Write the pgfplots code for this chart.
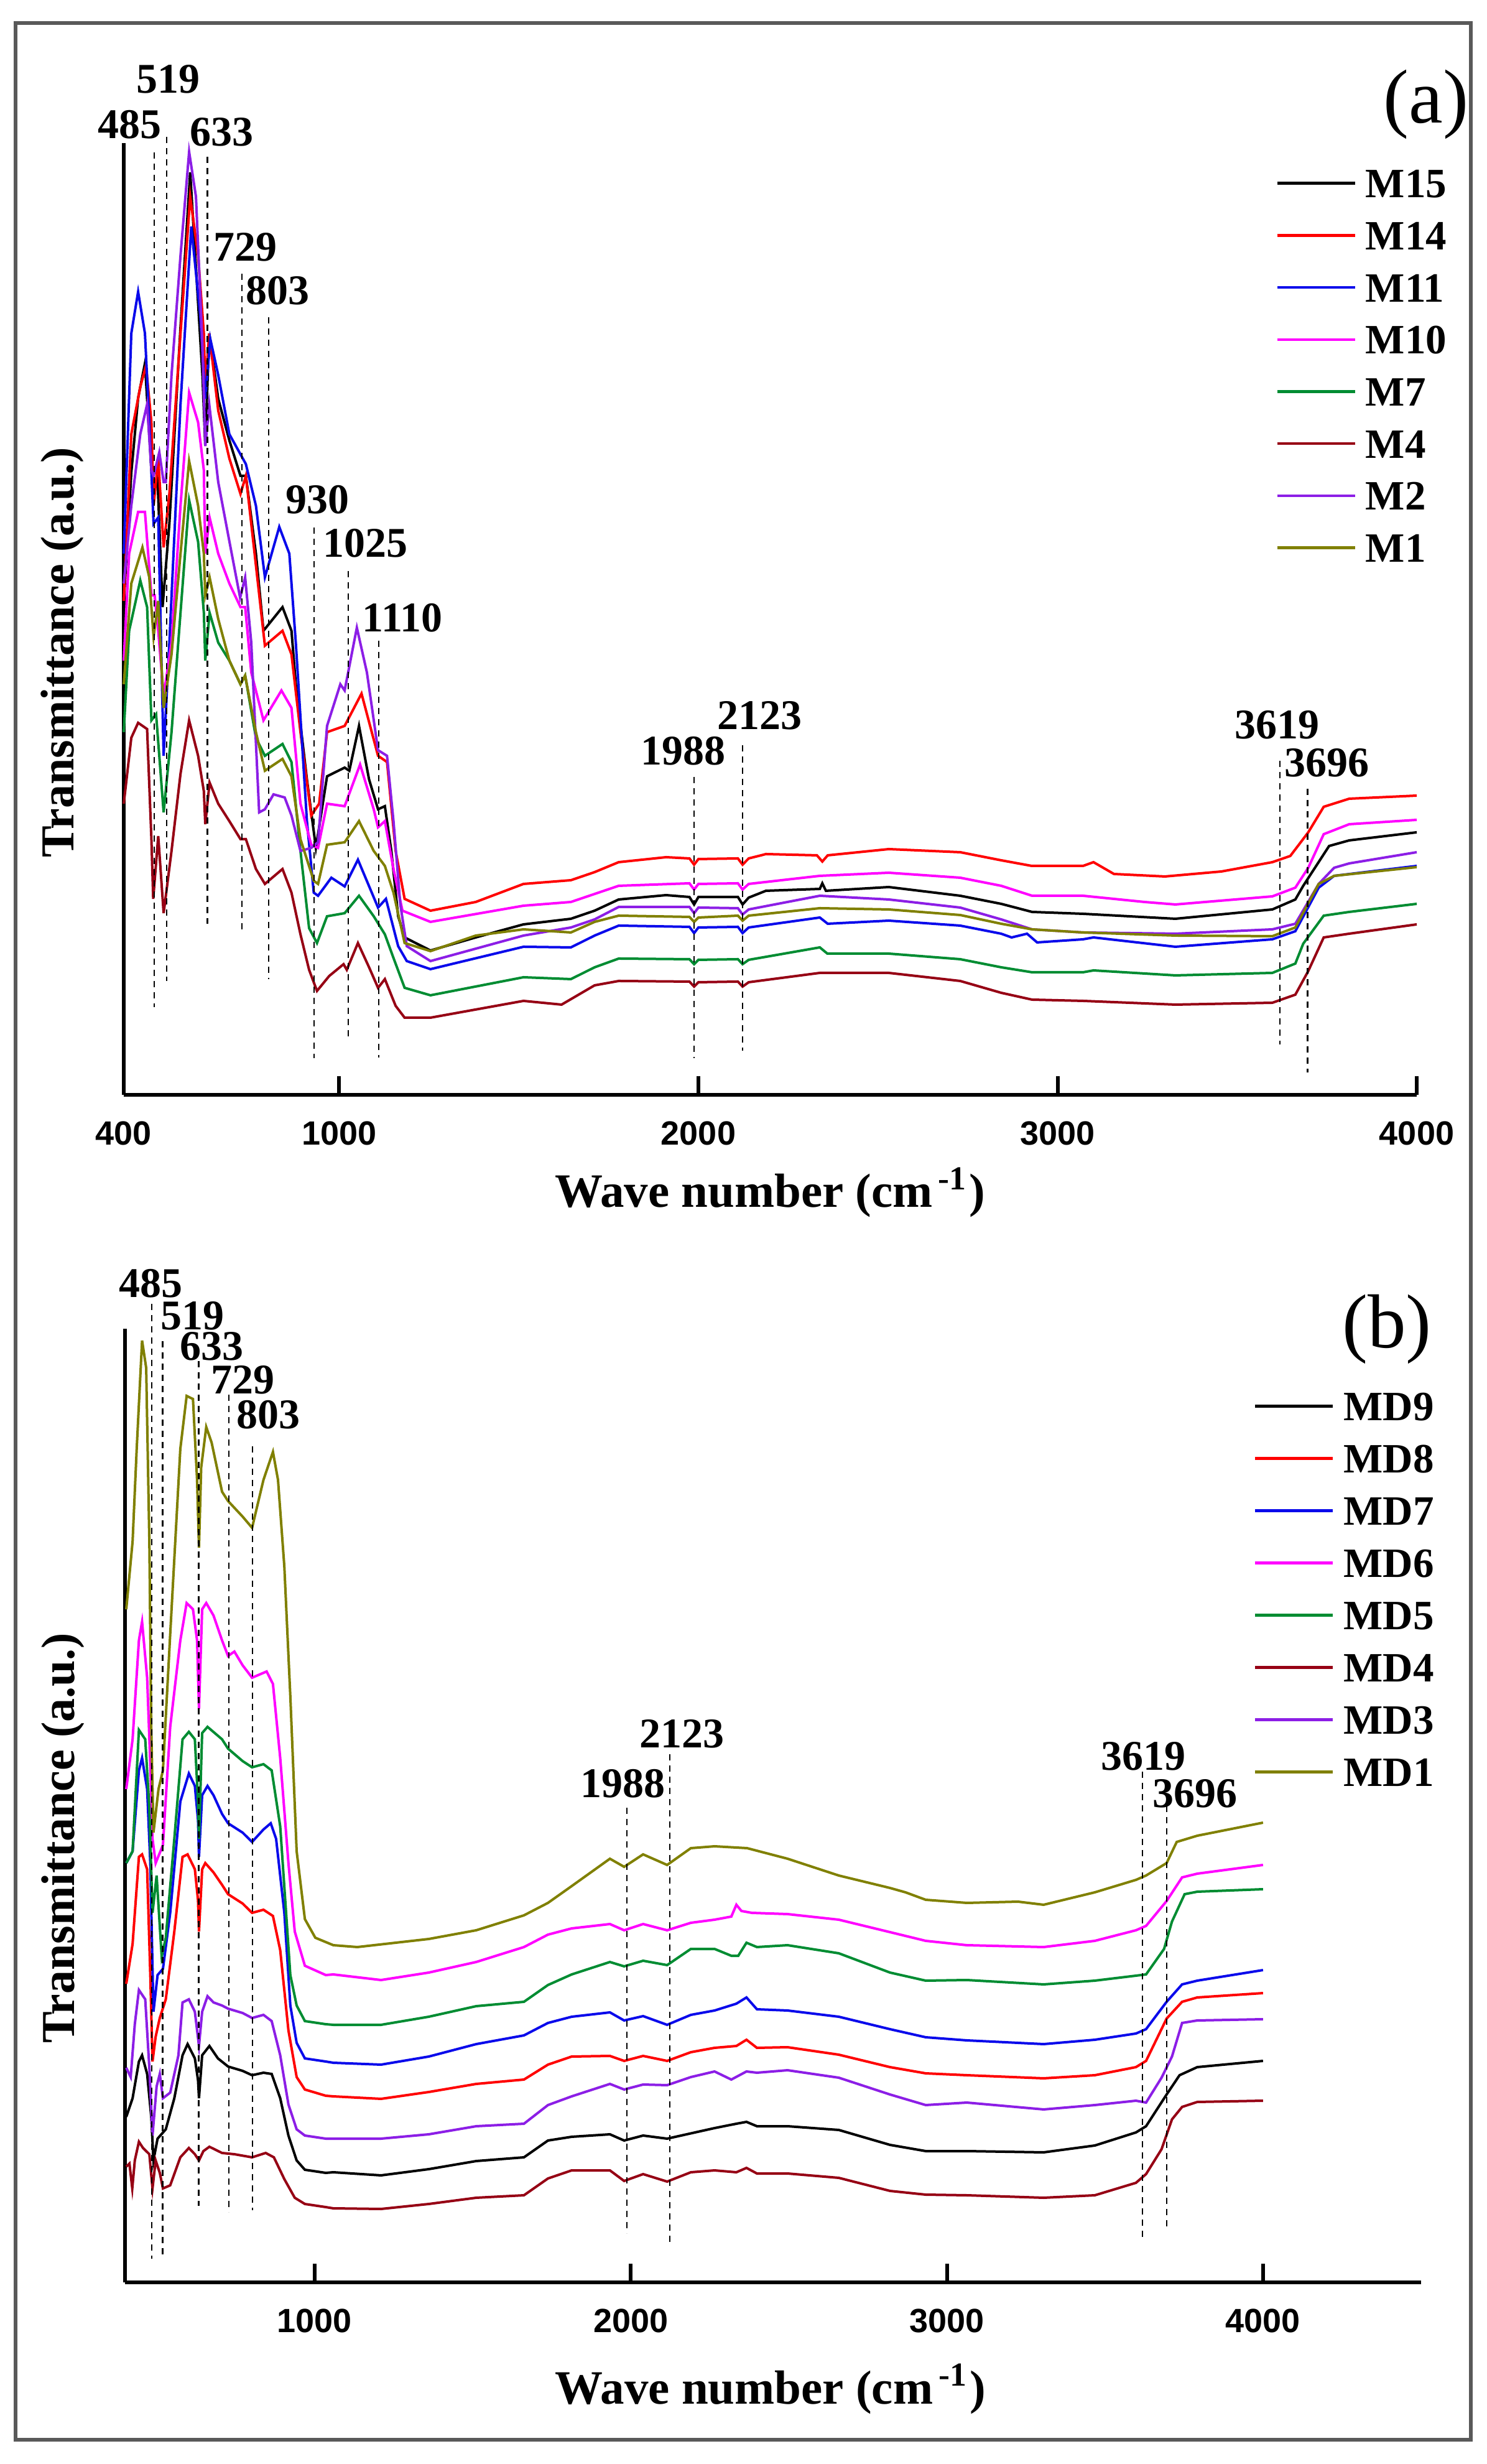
\documentclass[border=0pt]{standalone}
\usepackage{pgfplots}
\pgfplotsset{compat=1.18}
\usepackage{fontspec}
\setmainfont{Liberation Serif}
\newfontfamily\ticksans{Liberation Sans}
\definecolor{cRed}{RGB}{255,0,0}
\definecolor{cBlue}{RGB}{10,10,235}
\definecolor{cMag}{RGB}{255,0,255}
\definecolor{cGreen}{RGB}{0,140,50}
\definecolor{cDark}{RGB}{150,0,20}
\definecolor{cPurp}{RGB}{140,30,230}
\definecolor{cOlive}{RGB}{128,128,0}
\pgfplotsset{
  ftir/.style={
    scale only axis, axis lines=left, axis line style={-, line width=0.6pt},
    ymin=0, ytick=\empty, tick align=inside, major tick length=3pt,
    every tick/.style={line width=0.6pt, black},
    xticklabel style={font=\ticksans\bfseries\fontsize{5.4}{6}\selectfont, anchor=base, inner sep=0pt},
    /pgf/number format/assume math mode=true,
    /pgf/number format/set thousands separator={},
    clip=false,
    ylabel={Transmittance (a.u.)},
    xlabel={Wave number (cm\textsuperscript{\,-1})},
    ylabel style={font=\bfseries\fontsize{7.6}{9}\selectfont, anchor=base, inner sep=0pt},
    legend cell align=left,
    legend image code/.code={\draw[#1, line width=0.45pt] (0pt,0pt) -- (12.5pt,0pt);},
    every axis plot/.append style={line width=0.4pt},
  },
  dsh/.style={black, line width=0.22pt, dash pattern=on 1pt off 0.8pt, forget plot},
}
\tikzset{ann/.style={font=\bfseries\fontsize{6.8}{8}\selectfont, anchor=base, inner sep=0pt}}
\begin{document}
\begin{tikzpicture}
\useasboundingbox (0pt,0pt) rectangle (239pt,396.1pt);
\draw[line width=0.55pt, color=black!65] (2.5pt,3.9pt) rectangle (236.5pt,392.4pt);

% ---------------- panel (a) ----------------
\begin{axis}[ftir, at={(19.9pt,220.1pt)}, anchor=south west,
  width=207.9pt, height=153pt, xmin=400, xmax=4000, ymax=1530,
  xtick={400,1000,2000,3000,4000},
  xticklabel style={yshift=-8.1pt},
  xlabel style={at={(axis description cs:0.5,-0.1183)}, anchor=base, inner sep=0pt, font=\bfseries\fontsize{7.7}{9}\selectfont},
  ylabel style={at={(axis description cs:-0.0385,0.465)}},
  legend style={at={(axis description cs:0.890,0.974)}, anchor=north west, draw=none, fill=none,
    font=\bfseries\fontsize{6.7}{7}\selectfont, inner sep=0pt, row sep=3.77pt, column sep=1.5pt,
    nodes={inner sep=0pt, text height=4.6pt, text depth=0pt}},
]
\addplot[black] coordinates {(400,790) (421,1000) (440,1120) (459,1176) (477,1004) (493,1004) (508,784) (527,918) (558,1234) (585,1483) (619,1157) (627,1043) (638,1224) (663,1119) (694,1052) (725,995) (740,995) (768,870) (789,746) (842,784) (867,746) (879,660) (910,507) (935,397) (966,512) (1015,526) (1028,521) (1055,593) (1083,507) (1108,459) (1127,464) (1145,392) (1164,287) (1182,253) (1254,232) (1380,253) (1513,274) (1645,283) (1711,296) (1778,314) (1910,321) (1975,318) (1988,306) (2000,318) (2110,318) (2123,306) (2140,317) (2188,328) (2338,331) (2345,340) (2355,328) (2530,334) (2729,320) (2843,307) (2929,294) (3071,291) (3328,283) (3598,298) (3662,314) (3684,336) (3756,400) (3812,409) (4000,422)};
\addlegendentry{M15}
\addplot[cRed] coordinates {(400,794) (421,1062) (446,1138) (462,1172) (477,1081) (483,947) (496,1023) (511,880) (527,966) (558,1224) (585,1444) (607,1349) (623,1224) (627,1138) (638,1224) (663,1100) (694,1023) (725,966) (740,995) (768,851) (793,722) (842,746) (867,708) (892,583) (922,449) (944,468) (966,583) (1015,593) (1062,645) (1108,545) (1133,535) (1157,392) (1182,315) (1254,296) (1380,310) (1513,339) (1645,345) (1711,358) (1778,374) (1910,382) (1975,380) (1988,370) (2000,379) (2110,380) (2123,370) (2140,380) (2188,387) (2330,385) (2345,375) (2360,385) (2530,395) (2729,390) (2843,377) (2928,368) (3071,368) (3100,374) (3157,355) (3299,351) (3456,359) (3598,374) (3648,384) (3698,422) (3741,463) (3812,476) (4000,481)};
\addlegendentry{M14}
\addplot[cBlue] coordinates {(400,870) (421,1224) (440,1291) (459,1224) (471,1081) (483,918) (496,928) (511,545) (527,727) (558,1110) (588,1396) (613,1253) (627,1119) (641,1215) (663,1157) (694,1062) (740,1014) (768,947) (793,832) (833,913) (861,870) (879,727) (910,440) (929,325) (941,320) (978,349) (1015,335) (1052,378) (1108,301) (1130,315) (1164,239) (1188,215) (1254,202) (1513,238) (1645,237) (1711,256) (1778,272) (1975,270) (1988,260) (2000,269) (2110,270) (2123,260) (2140,269) (2338,285) (2360,275) (2530,280) (2729,272) (2843,259) (2872,253) (2915,259) (2943,245) (3071,250) (3100,253) (3328,238) (3598,250) (3662,263) (3727,333) (3770,352) (4000,368)};
\addlegendentry{M11}
\addplot[cMag] coordinates {(400,698) (415,870) (440,937) (459,937) (477,803) (486,803) (496,746) (511,641) (533,727) (558,947) (582,1129) (607,1081) (623,1004) (627,870) (639,928) (663,870) (694,822) (725,784) (738,784) (755,679) (789,602) (839,650) (867,622) (892,468) (922,402) (941,397) (966,468) (1015,464) (1058,531) (1096,459) (1108,430) (1127,440) (1151,363) (1176,296) (1254,278) (1513,304) (1645,310) (1778,336) (1975,340) (1988,330) (2000,339) (2110,340) (2123,330) (2140,339) (2338,352) (2530,357) (2729,349) (2843,336) (2929,320) (3071,320) (3242,310) (3328,306) (3598,319) (3662,333) (3698,365) (3741,419) (3812,435) (4000,442)};
\addlegendentry{M10}
\addplot[cGreen] coordinates {(400,583) (415,746) (446,827) (465,784) (477,602) (490,612) (511,454) (533,583) (558,775) (582,956) (607,889) (623,775) (627,698) (639,775) (663,727) (694,698) (725,660) (738,674) (768,574) (793,545) (842,564) (867,535) (892,392) (916,268) (938,244) (966,287) (1015,292) (1055,320) (1096,287) (1127,258) (1151,220) (1182,172) (1254,160) (1513,189) (1645,186) (1711,205) (1778,219) (1975,218) (1988,210) (2000,217) (2110,218) (2123,210) (2140,217) (2338,237) (2359,227) (2530,227) (2729,218) (2843,205) (2929,197) (3071,197) (3100,200) (3328,192) (3598,196) (3662,211) (3684,243) (3741,288) (3812,294) (4000,307)};
\addlegendentry{M7}
\addplot[cDark] coordinates {(400,468) (421,574) (440,598) (465,588) (477,411) (482,315) (496,416) (511,292) (533,392) (558,516) (582,602) (607,545) (623,488) (627,435) (639,502) (663,468) (694,440) (725,411) (740,411) (768,363) (793,339) (842,363) (867,325) (892,258) (916,201) (938,167) (972,191) (1012,210) (1021,201) (1052,244) (1083,205) (1108,172) (1127,186) (1157,143) (1182,124) (1254,124) (1513,151) (1619,145) (1711,176) (1778,183) (1975,182) (1988,174) (2000,181) (2110,182) (2123,174) (2140,181) (2338,196) (2530,196) (2729,183) (2843,164) (2929,153) (3071,151) (3328,145) (3598,148) (3662,161) (3698,199) (3741,253) (3812,259) (4000,274)};
\addlegendentry{M4}
\addplot[cPurp] coordinates {(400,822) (421,947) (446,1062) (465,1110) (477,1004) (483,995) (499,1033) (511,985) (517,985) (533,1157) (558,1349) (582,1516) (601,1444) (619,1205) (627,1043) (638,1110) (663,985) (694,890) (724,799) (738,832) (755,727) (777,454) (793,459) (817,483) (848,478) (867,449) (892,392) (922,397) (941,406) (966,593) (1003,660) (1015,650) (1049,751) (1077,679) (1108,554) (1133,545) (1151,440) (1170,306) (1188,239) (1254,215) (1513,256) (1645,269) (1711,282) (1778,302) (1975,302) (1988,292) (2000,301) (2110,300) (2123,290) (2140,298) (2338,320) (2530,314) (2729,301) (2843,282) (2929,266) (3071,261) (3328,259) (3598,266) (3662,275) (3727,339) (3770,365) (3812,372) (4000,390)};
\addlegendentry{M2}
\addplot[cOlive] coordinates {(400,660) (421,822) (452,880) (471,832) (483,736) (496,794) (511,622) (533,708) (558,870) (582,1019) (607,947) (623,870) (627,803) (639,832) (663,765) (694,698) (725,660) (738,674) (768,583) (793,521) (842,540) (867,512) (892,411) (929,344) (941,339) (966,402) (1015,406) (1055,440) (1096,392) (1127,368) (1151,325) (1182,244) (1254,231) (1380,256) (1513,266) (1645,261) (1711,278) (1778,288) (1975,286) (1988,278) (2000,285) (2110,288) (2123,280) (2140,288) (2338,300) (2530,298) (2729,289) (2843,275) (2929,266) (3071,261) (3328,256) (3598,255) (3662,269) (3727,339) (3770,352) (4000,366)};
\addlegendentry{M1}
% guide lines
\addplot[dsh] coordinates {(485,1515) (485,141)};
\addplot[dsh] coordinates {(519,1540) (519,183)};
\addplot[dsh] coordinates {(633,1508) (633,275)};
\addplot[dsh] coordinates {(729,1320) (729,260)};
\addplot[dsh] coordinates {(803,1250) (803,186)};
\addplot[dsh] coordinates {(930,912) (930,59)};
\addplot[dsh] coordinates {(1025,842) (1025,94)};
\addplot[dsh] coordinates {(1110,730) (1110,60)};
\addplot[dsh] coordinates {(1988,511) (1988,59)};
\addplot[dsh] coordinates {(2123,562) (2123,71)};
\addplot[dsh] coordinates {(3619,537) (3619,81)};
\addplot[dsh] coordinates {(3696,492) (3696,36)};
\node[ann] at (axis cs:416,1537) {485};
\node[ann] at (axis cs:523,1610) {519};
\node[ann] at (axis cs:672,1525) {633};
\node[ann] at (axis cs:738,1340) {729};
\node[ann] at (axis cs:829,1270) {803};
\node[ann] at (axis cs:940,934) {930};
\node[ann] at (axis cs:1072,864) {1025};
\node[ann] at (axis cs:1176,744) {1110};
\node[ann] at (axis cs:1958,530) {1988};
\node[ann] at (axis cs:2170,587) {2123};
\node[ann] at (axis cs:3612,572) {3619};
\node[ann] at (axis cs:3749,511) {3696};
\node[font=\fontsize{12.3}{14}\selectfont, anchor=base, inner sep=0pt] at (axis cs:4026,1562) {(a)};
\end{axis}

% ---------------- panel (b) ----------------
\begin{axis}[ftir, at={(20.1pt,29.2pt)}, anchor=south west,
  width=208.4pt, height=153.3pt, xmin=400, xmax=4500, ymax=1533,
  xtick={1000,2000,3000,4000},
  xticklabel style={yshift=-8pt},
  xlabel style={at={(axis description cs:0.498,-0.1272)}, anchor=base, inner sep=0pt, font=\bfseries\fontsize{7.7}{9}\selectfont},
  ylabel style={at={(axis description cs:-0.0393,0.466)}},
  legend style={at={(axis description cs:0.870,0.935)}, anchor=north west, draw=none, fill=none,
    font=\bfseries\fontsize{6.7}{7}\selectfont, inner sep=0pt, row sep=3.8pt, column sep=1.5pt,
    nodes={inner sep=0pt, text height=4.6pt, text depth=0pt}},
]
\addplot[black] coordinates {(404,266) (424,296) (444,355) (454,365) (470,335) (483,266) (490,196) (503,231) (529,246) (556,296) (582,365) (598,383) (621,360) (631,325) (634,296) (644,365) (667,380) (694,360) (726,347) (772,340) (802,333) (838,337) (864,335) (891,296) (917,236) (943,196) (969,181) (1035,176) (1059,177) (1210,172) (1361,182) (1511,195) (1662,201) (1738,228) (1813,234) (1934,238) (1979,228) (2039,236) (2115,231) (2265,248) (2334,255) (2366,258) (2399,251) (2496,251) (2658,245) (2820,221) (2933,211) (3063,211) (3306,209) (3468,220) (3598,241) (3630,251) (3695,302) (3736,333) (3792,346) (4000,356)};
\addlegendentry{MD9}
\addplot[cRed] coordinates {(404,480) (424,544) (444,684) (454,688) (470,664) (480,494) (487,355) (497,395) (510,425) (529,455) (556,564) (582,684) (598,688) (621,664) (631,614) (634,564) (644,664) (654,674) (680,659) (707,639) (726,624) (772,609) (802,594) (838,599) (868,589) (891,534) (917,405) (943,330) (969,310) (1035,300) (1059,299) (1210,295) (1361,306) (1511,319) (1662,326) (1738,350) (1813,363) (1934,364) (1979,356) (2039,364) (2115,356) (2190,370) (2265,377) (2334,380) (2366,390) (2399,377) (2496,378) (2658,366) (2820,346) (2933,336) (3063,333) (3306,328) (3468,333) (3598,346) (3630,356) (3695,424) (3744,451) (3792,458) (4000,465)};
\addlegendentry{MD8}
\addplot[cBlue] coordinates {(404,674) (424,693) (444,823) (454,843) (470,793) (480,674) (490,435) (503,494) (520,504) (543,594) (575,773) (602,818) (621,798) (631,743) (634,684) (644,783) (661,798) (680,783) (707,753) (726,738) (772,723) (802,708) (838,728) (861,738) (878,713) (904,594) (923,445) (943,385) (969,360) (1035,355) (1059,353) (1210,350) (1361,363) (1511,383) (1662,397) (1738,417) (1813,427) (1934,434) (1979,421) (2039,428) (2115,414) (2190,430) (2265,437) (2334,448) (2366,458) (2399,439) (2496,437) (2658,427) (2820,407) (2933,394) (3063,389) (3306,383) (3468,390) (3598,400) (3630,407) (3695,451) (3744,479) (3792,485) (4000,502)};
\addlegendentry{MD7}
\addplot[cMag] coordinates {(404,793) (424,873) (444,1032) (454,1062) (470,972) (480,833) (487,713) (497,674) (520,703) (543,893) (575,1032) (595,1092) (615,1082) (628,1032) (634,922) (644,1082) (657,1092) (680,1072) (707,1032) (726,1007) (746,1014) (772,992) (802,972) (848,982) (868,962) (891,843) (917,674) (937,564) (969,509) (1035,494) (1059,495) (1210,486) (1361,498) (1511,515) (1662,539) (1738,559) (1813,569) (1934,576) (1979,566) (2039,576) (2115,566) (2190,578) (2265,583) (2318,588) (2334,607) (2350,597) (2383,594) (2496,592) (2658,583) (2820,563) (2933,549) (3063,542) (3306,539) (3468,549) (3598,566) (3630,573) (3695,613) (3744,651) (3792,657) (4000,671)};
\addlegendentry{MD6}
\addplot[cGreen] coordinates {(404,674) (424,693) (444,888) (464,873) (477,763) (487,594) (500,654) (516,524) (529,554) (556,713) (582,873) (602,885) (621,873) (631,773) (634,713) (644,883) (661,893) (707,873) (726,858) (772,838) (802,828) (838,833) (864,823) (891,733) (923,494) (943,445) (969,420) (1035,415) (1059,414) (1210,414) (1361,427) (1511,444) (1662,451) (1738,478) (1813,495) (1934,515) (1979,508) (2039,517) (2115,510) (2190,536) (2265,536) (2318,525) (2340,525) (2366,546) (2399,539) (2496,542) (2658,529) (2820,498) (2933,485) (3063,486) (3306,479) (3468,485) (3598,493) (3630,495) (3687,536) (3712,580) (3752,624) (3792,628) (4000,632)};
\addlegendentry{MD5}
\addplot[cDark] coordinates {(404,186) (414,191) (423,151) (431,196) (444,226) (457,216) (477,206) (487,151) (497,196) (510,176) (520,151) (543,156) (575,201) (602,216) (621,206) (634,196) (648,211) (667,218) (707,208) (746,206) (802,201) (845,208) (871,201) (904,166) (937,136) (969,126) (1035,121) (1059,119) (1210,118) (1361,126) (1511,136) (1662,140) (1738,167) (1813,180) (1934,180) (1979,163) (2039,174) (2115,162) (2190,177) (2265,180) (2334,177) (2366,184) (2399,175) (2496,175) (2658,168) (2820,147) (2933,141) (3063,140) (3306,136) (3468,140) (3598,160) (3630,174) (3679,214) (3712,262) (3744,282) (3792,290) (4000,292)};
\addlegendentry{MD4}
\addplot[cPurp] coordinates {(404,345) (418,330) (431,415) (444,470) (464,455) (477,345) (487,236) (500,315) (510,335) (520,296) (543,305) (569,365) (582,450) (602,455) (621,435) (634,380) (644,435) (661,460) (680,450) (707,445) (726,440) (772,433) (802,425) (838,430) (864,420) (891,365) (917,286) (943,246) (969,236) (1035,231) (1059,231) (1210,231) (1361,238) (1511,251) (1662,255) (1738,285) (1813,299) (1934,319) (1979,310) (2039,318) (2115,317) (2190,330) (2265,339) (2318,326) (2366,339) (2399,337) (2496,341) (2658,329) (2820,302) (2933,285) (3063,289) (3306,278) (3468,285) (3598,292) (3630,289) (3679,329) (3712,363) (3744,417) (3792,421) (4000,423)};
\addlegendentry{MD3}
\addplot[cOlive] coordinates {(404,1082) (424,1191) (437,1340) (454,1514) (467,1470) (477,1191) (483,893) (490,723) (506,793) (520,823) (543,1042) (575,1340) (595,1425) (615,1420) (628,1290) (634,1181) (641,1310) (657,1375) (674,1350) (707,1271) (726,1256) (772,1231) (802,1213) (838,1290) (868,1335) (884,1290) (904,1151) (923,942) (943,693) (969,584) (1002,554) (1059,542) (1135,539) (1361,552) (1511,566) (1662,590) (1738,610) (1813,637) (1934,681) (1979,668) (2039,688) (2115,671) (2190,698) (2265,701) (2368,698) (2496,681) (2658,654) (2820,634) (2869,627) (2933,615) (3063,610) (3225,612) (3306,607) (3468,627) (3598,647) (3630,654) (3695,674) (3727,708) (3792,718) (4000,739)};
\addlegendentry{MD1}
% guide lines
\addplot[dsh] coordinates {(485,1573) (485,38)};
\addplot[dsh] coordinates {(519,1513) (519,42)};
\addplot[dsh] coordinates {(633,1481) (633,123)};
\addplot[dsh] coordinates {(729,1427) (729,113)};
\addplot[dsh] coordinates {(803,1344) (803,116)};
\addplot[dsh] coordinates {(1988,763) (1988,79)};
\addplot[dsh] coordinates {(2123,849) (2123,65)};
\addplot[dsh] coordinates {(3619,821) (3619,72)};
\addplot[dsh] coordinates {(3696,802) (3696,86)};
\node[ann] at (axis cs:481,1583) {485};
\node[ann] at (axis cs:613,1531) {519};
\node[ann] at (axis cs:674,1482) {633};
\node[ann] at (axis cs:772,1428) {729};
\node[ann] at (axis cs:853,1372) {803};
\node[ann] at (axis cs:1974,779) {1988};
\node[ann] at (axis cs:2162,859) {2123};
\node[ann] at (axis cs:3622,824) {3619};
\node[ann] at (axis cs:3785,763) {3696};
\node[font=\fontsize{12.3}{14}\selectfont, anchor=base, inner sep=0pt] at (axis cs:4392,1502) {(b)};
\end{axis}
\end{tikzpicture}
\end{document}
